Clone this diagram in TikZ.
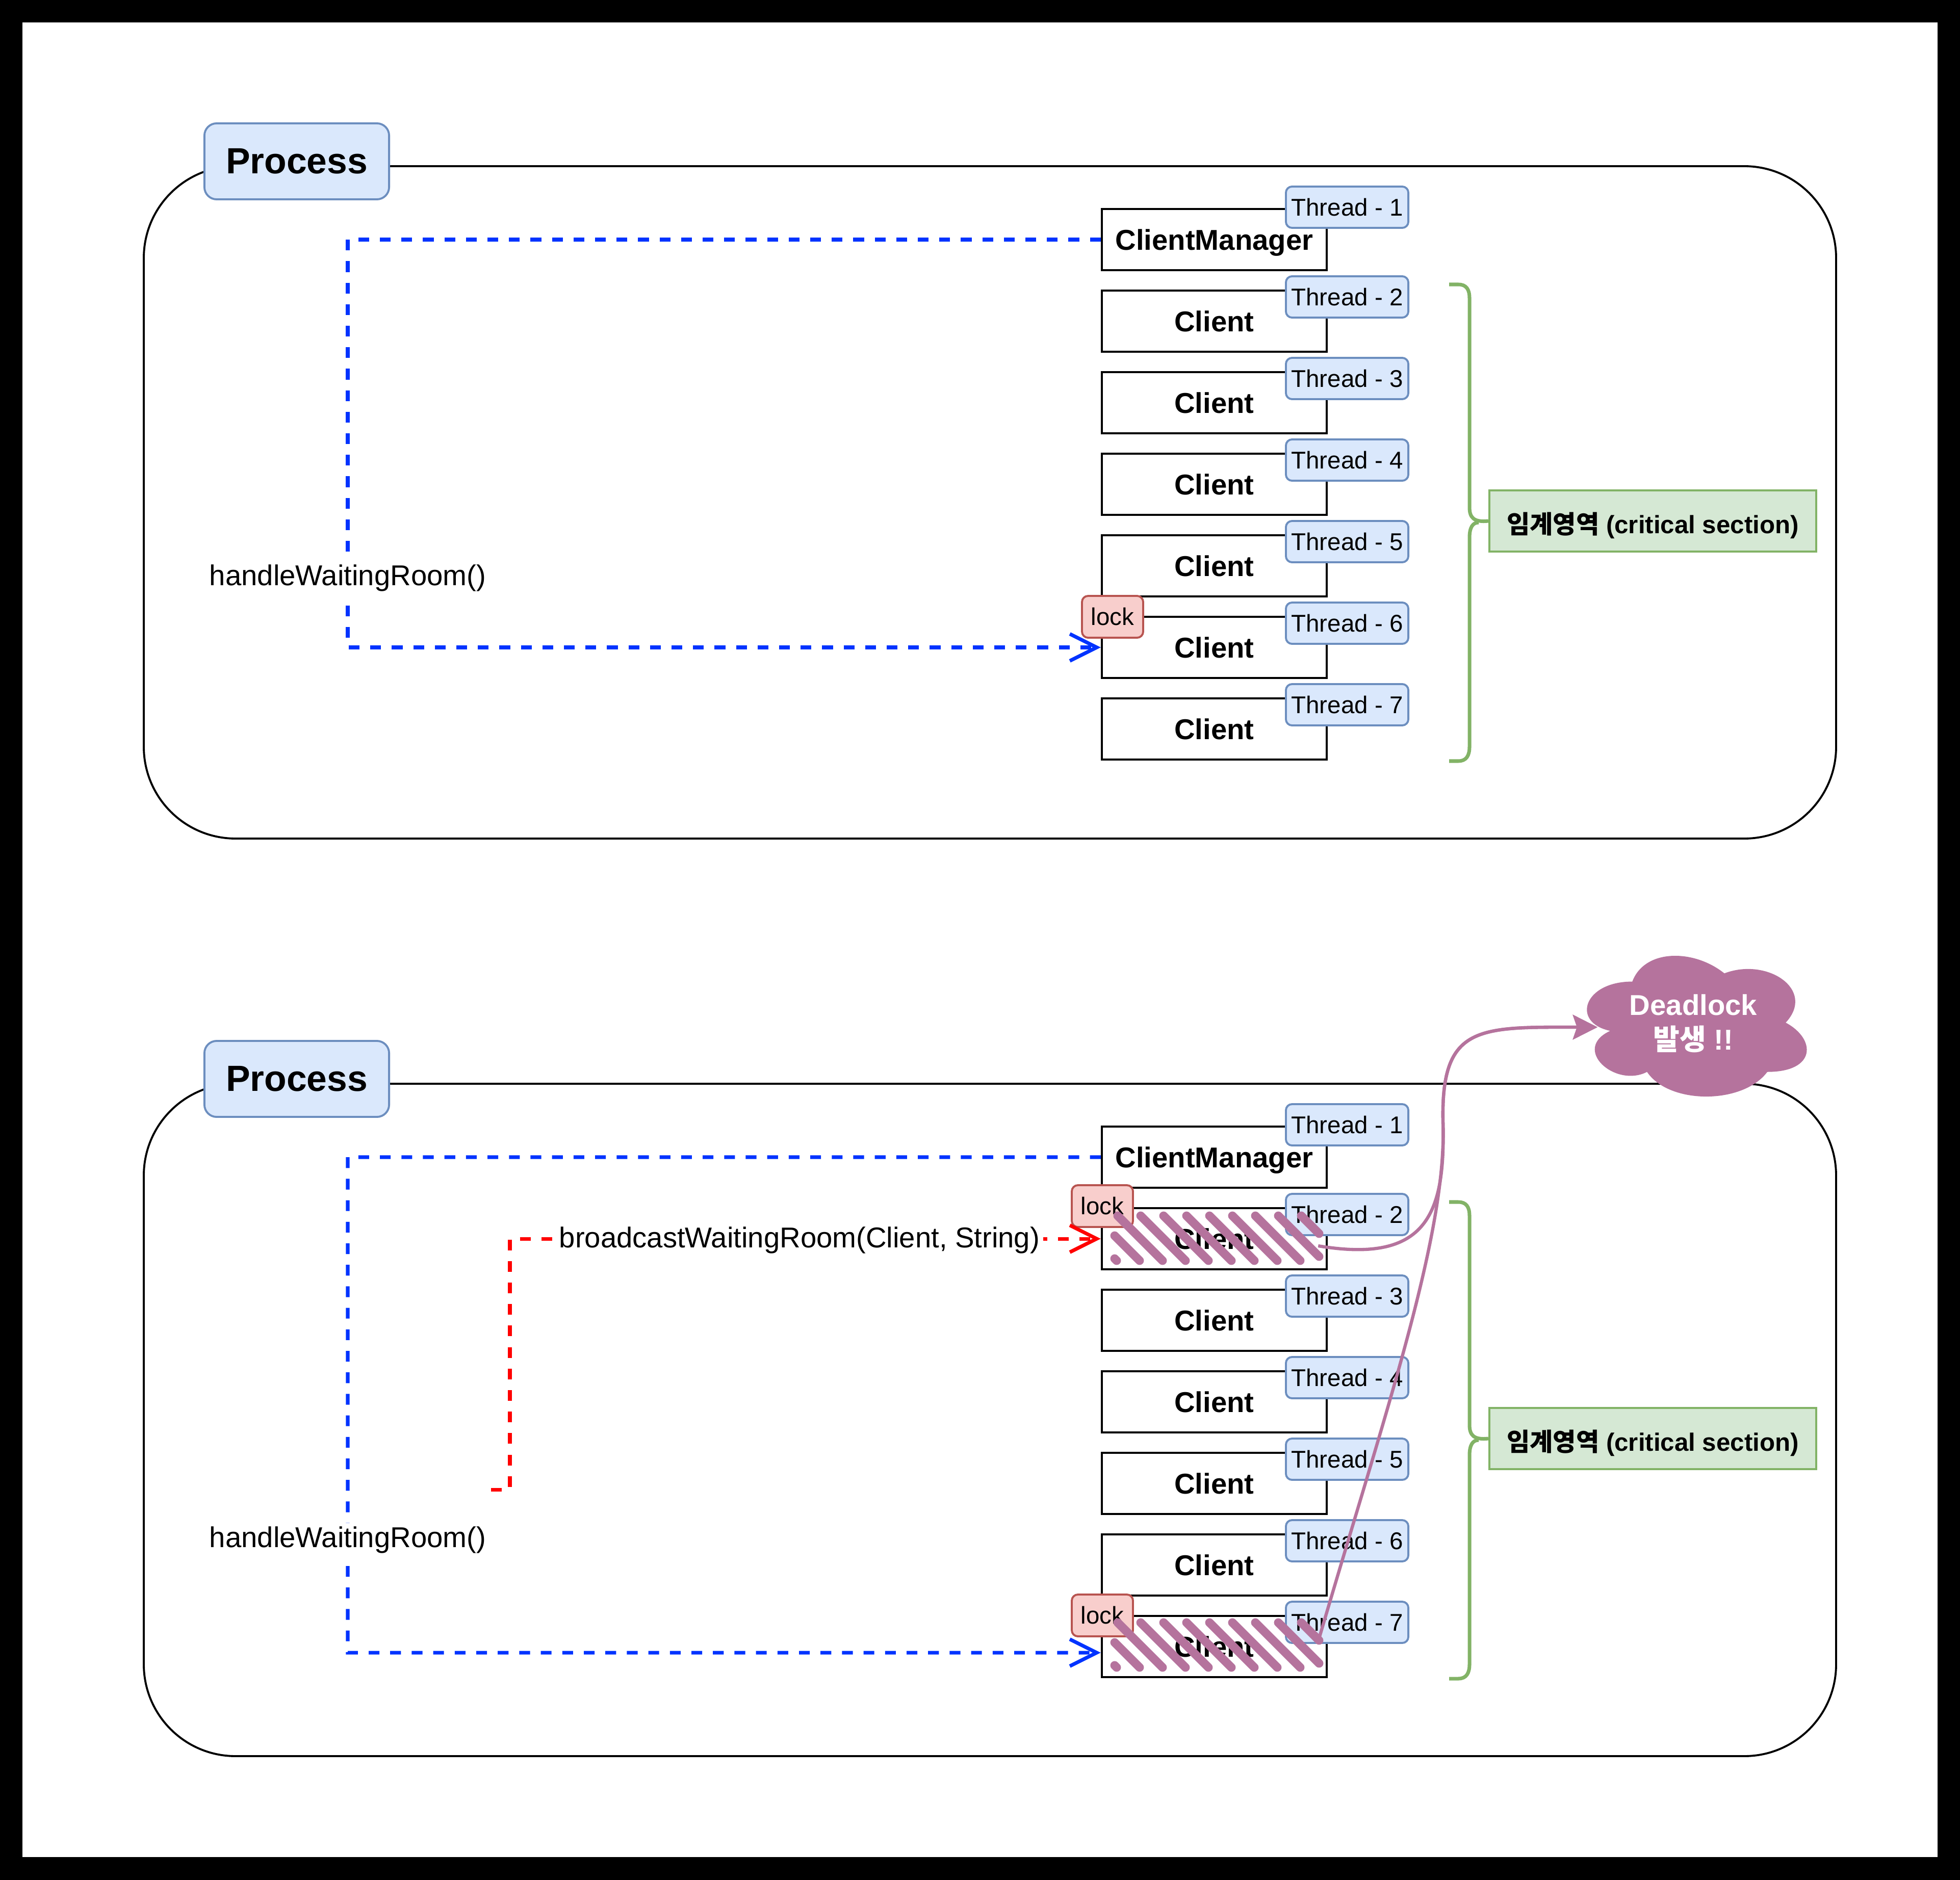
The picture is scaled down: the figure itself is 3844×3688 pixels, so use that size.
\documentclass[tikz,border=0pt]{standalone}
\usepackage{fontspec}
\setmainfont{Liberation Sans}
\newfontfamily\krfont{Noto Sans CJK KR}
\usetikzlibrary{arrows.meta}
\definecolor{thrfill}{HTML}{DAE8FC}
\definecolor{thrline}{HTML}{6C8EBF}
\definecolor{lockfill}{HTML}{F8CECC}
\definecolor{lockline}{HTML}{B85450}
\definecolor{crfill}{HTML}{D5E8D4}
\definecolor{crline}{HTML}{82B366}
\definecolor{dlpurple}{HTML}{B5739D}
\definecolor{callblue}{HTML}{0033FF}
\definecolor{callred}{HTML}{FF0000}

\begin{document}
\begin{tikzpicture}[x=0.01cm, y=-0.01cm,
  procframe/.style={draw=black, line width=1.1pt, rounded corners=1.8cm},
  proclabel/.style={draw=thrline, fill=thrfill, line width=1.1pt, rounded corners=0.24cm,
    minimum width=3.62cm, minimum height=1.49cm, inner sep=0pt,
    font=\fontsize{20.3}{24}\selectfont\bfseries},
  objbox/.style={draw=black, fill=white, line width=1.2pt, minimum width=4.41cm,
    minimum height=1.2cm, inner sep=0pt, text height=11.5pt, text depth=0pt,
    font=\fontsize{16}{19}\selectfont\bfseries},
  thrtag/.style={draw=thrline, fill=thrfill, line width=1.1pt, rounded corners=0.12cm,
    minimum width=2.4cm, minimum height=0.81cm, inner sep=0pt,
    font=\fontsize{13.5}{16}\selectfont},
  locktag/.style={draw=lockline, fill=lockfill, line width=1.1pt, rounded corners=0.12cm,
    minimum width=1.2cm, minimum height=0.82cm, inner sep=0pt,
    font=\fontsize{13.5}{16}\selectfont},
  critbox/.style={draw=crline, fill=crfill, line width=1.1pt, minimum width=6.41cm,
    minimum height=1.2cm, inner sep=0pt, text height=14pt, text depth=0pt,
    font=\fontsize{14}{17}\selectfont\bfseries},
  bracepath/.style={draw=crline, line width=2pt},
  calldash/.style={line width=2pt, dash pattern=on 6pt off 6pt,
    -{Straight Barb[length=15pt,width=15pt]}},
  calltext/.style={fill=white, inner sep=2pt, font=\fontsize{16}{19}\selectfont},
  hachure/.style={draw=dlpurple, line width=4.8pt, line cap=round},
  waitfor/.style={draw=dlpurple, line width=1.8pt,
    -{Stealth[length=13.7pt,width=13.7pt,inset=2.3pt]}},
]
% page frame
\fill[black] (0,0) rectangle (3844,3688);
\fill[white] (44,44) rectangle (3800,3643);
\useasboundingbox (0,0) rectangle (3844,3688);

% the two process panels
\foreach \p/\dy in {a/0,b/1800}{
  \begin{scope}[shift={(0,\dy)}]
    \draw[procframe] (282,326) rectangle (3601,1645);
    \node[proclabel] (proc\p) at (582,316.5) {Process};
    \node[objbox] (cm\p) at (2381.5,470) {ClientManager};
    \node[thrtag] (t1\p) at (2642,406.5) {Thread - 1};
    \foreach \i in {2,...,7}{
      \node[objbox] (c\i\p) at (2381.5,{470+160*(\i-1)}) {Client};
      \node[thrtag] (t\i\p) at (2642,{422.5+160*(\i-1)}) {Thread - \i};
    }
    \node[critbox] (crit\p) at (3241.5,1022) {{\krfont\bfseries 임계영역} (critical section)};
    \draw[bracepath] (2842,558) -- (2860,558) .. controls (2876,558) and (2882,568) .. (2882,585)
      -- (2882,995) .. controls (2882,1015) and (2890,1025) .. (crit\p.west);
    \draw[bracepath] (2900,1025) .. controls (2888,1025) and (2882,1035) .. (2882,1055)
      -- (2882,1465) .. controls (2882,1482) and (2876,1493) .. (2860,1493) -- (2842,1493);
  \end{scope}
}

% locks
\node[locktag] (lock6a) at (2182,1210) {lock};
\node[locktag] (lock2b) at (2162,2366) {lock};
\node[locktag] (lock7b) at (2162,3169) {lock};

% calls
\draw[calldash, callblue] (cma.west) -- (682,470) -- (682,1270) -- (c6a.west);
\node[calltext] (hwa) at (682,1134) {handleWaitingRoom()};

\draw[calldash, callblue] (cmb.west) -- (682,2270) -- (682,3242) -- ([yshift=-0.12cm]c7b.west);
\node[calltext] (hwb) at (682,3021) {handleWaitingRoom()};

\coordinate (redstart) at (963,2922);
\draw[calldash, callred] (redstart) -- (1000,2922) -- (1000,2430) -- (c2b.west);
\node[calltext] (bcb) at (1568,2433) {broadcastWaitingRoom(Client, String)};

% locked clients
\foreach \bx/\by in {2161/2369, 2161/3167}{
  \begin{scope}[shift={(\bx,\by)}]
    \foreach \xa/\ya/\xb/\yb in {25/100/29/104, 25/55/74/104, 31/16/119/104, 76/16/164/104,
        121/16/209/104, 166/16/254/104, 211/16/299/104, 256/16/344/104, 301/16/389/104,
        346/16/426/96, 391/16/426/51}
      \draw[hachure] (\xa,\ya) -- (\xb,\yb);
  \end{scope}
}

% deadlock cloud
\begin{scope}[shift={(3081,1845)}, x=4.81cm, y=-3.22cm]
  \fill[dlpurple] (0.25,0.25) .. controls (0.05,0.25) and (0,0.5) .. (0.16,0.55)
    .. controls (0,0.66) and (0.18,0.9) .. (0.31,0.8)
    .. controls (0.4,1) and (0.7,1) .. (0.8,0.8)
    .. controls (1,0.8) and (1,0.6) .. (0.875,0.5)
    .. controls (1,0.3) and (0.8,0.1) .. (0.625,0.2)
    .. controls (0.5,0.05) and (0.3,0.05) .. (0.25,0.25) -- cycle;
\end{scope}
\node[text=white, align=center, font=\fontsize{16}{19.3}\selectfont\bfseries] (dl) at (3321,2008)
  {Deadlock\\{\krfont\bfseries 발생} !!};
\coordinate (dltip) at (3133,2015);

% wait-for edges
\draw[waitfor] ([xshift=-0.19cm,yshift=-0.14cm]c2b.east) .. controls (2800,2480) and (2835,2380) .. (2830,2200)
  .. controls (2826,2010) and (2900,2015) .. (dltip);
\draw[waitfor] ([xshift=-0.19cm,yshift=0.1cm]c7b.east) .. controls (2720,2760) and (2838,2420) .. (2830,2200)
  .. controls (2826,2010) and (2900,2015) .. (dltip);
\end{tikzpicture}
\end{document}
